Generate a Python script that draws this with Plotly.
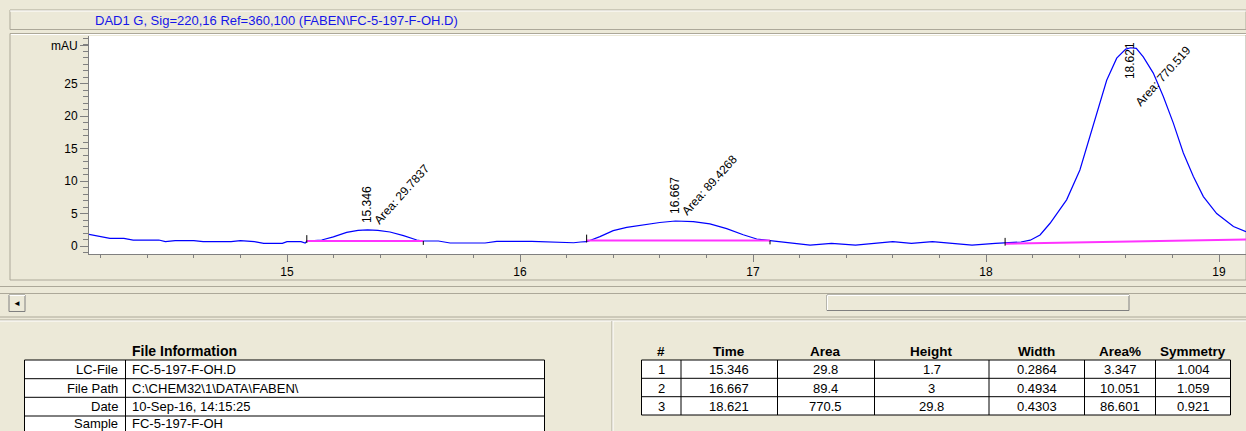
import plotly.graph_objects as go

# ---------------- chromatogram signal (retention time in min, signal in mAU) ----------------
ret_time = [
    14.150, 14.197, 14.240, 14.300, 14.340, 14.450, 14.478, 14.520, 14.600, 14.640,
    14.760, 14.800, 14.860, 14.900, 14.980, 15.000, 15.060, 15.078, 15.085, 15.149,
    15.199, 15.256, 15.305, 15.346, 15.390, 15.442, 15.500, 15.557, 15.585, 15.650,
    15.700, 15.850, 15.900, 16.050, 16.120, 16.180, 16.230, 16.260, 16.286, 16.343,
    16.400, 16.458, 16.529, 16.600, 16.667, 16.744, 16.815, 16.887, 16.958, 17.016,
    17.073, 17.120, 17.173, 17.245, 17.337, 17.440, 17.520, 17.600, 17.680, 17.770,
    17.855, 17.940, 18.040, 18.082, 18.150, 18.190, 18.232, 18.275, 18.346, 18.403,
    18.446, 18.482, 18.518, 18.561, 18.600, 18.621, 18.645, 18.675, 18.718, 18.761,
    18.804, 18.847, 18.890, 18.933, 18.990, 19.062, 19.116,
]
signal = [
    1.80, 1.44, 1.18, 1.18, 0.92, 0.92, 0.67, 0.82, 0.82, 0.66,
    0.66, 0.82, 0.66, 0.41, 0.41, 0.66, 0.66, 0.45, 0.77, 0.92,
    1.40, 2.10, 2.40, 2.47, 2.40, 2.15, 1.60, 0.92, 0.77, 0.77,
    0.46, 0.46, 0.70, 0.70, 0.66, 0.62, 0.50, 0.62, 0.66, 1.44,
    2.36, 2.87, 3.30, 3.62, 3.85, 3.75, 3.40, 2.67, 1.74, 1.08,
    0.82, 0.66, 0.41, 0.15, 0.41, 0.15, 0.41, 0.66, 0.41, 0.66,
    0.41, 0.15, 0.41, 0.45, 0.62, 0.90, 1.70, 3.50, 7.10, 11.70,
    16.80, 21.40, 25.50, 28.90, 30.30, 30.50, 30.40, 29.10, 26.60, 23.00,
    18.90, 14.30, 10.70, 7.60, 5.00, 3.00, 2.20,
]

# ---------------- integration baselines ----------------
base_start_t = [15.085, 16.286, 18.082]
base_start_v = [0.77, 0.85, 0.35]
base_end_t = [15.585, 17.073, 19.116]
base_end_v = [0.77, 0.85, 1.00]
base_end_visible = [True, True, False]

# ---------------- peak table ----------------
peak_no = ["1", "2", "3"]
peak_time = [15.346, 16.667, 18.621]
peak_area = [29.8, 89.4, 770.5]
peak_area_label = ["29.7837", "89.4268", "770.519"]
peak_height = [1.7, 3, 29.8]
peak_width = [0.2864, 0.4934, 0.4303]
peak_area_pct = [3.347, 10.051, 86.601]
peak_symmetry = [1.004, 1.059, 0.921]
peak_apex = [2.47, 3.85, 30.50]

table_headers = ["#", "Time", "Area", "Height", "Width", "Area%", "Symmetry"]

# ---------------- file information ----------------
info_labels = ["LC-File", "File Path", "Date", "Sample"]
info_values = ["FC-5-197-F-OH.D", "C:\\CHEM32\\1\\DATA\\FABEN\\", "10-Sep-16, 14:15:25", "FC-5-197-F-OH"]

signal_title = "DAD1 G, Sig=220,16 Ref=360,100 (FABEN\\FC-5-197-F-OH.D)"

# ---------------- page geometry (pixels) ----------------
W, H = 1246, 431
BG = "#ECE9D8"
GREY = "#ACA899"
DARK = "#808080"
FONT = "Liberation Sans, Arial, sans-serif"
NARROW = "Liberation Sans Narrow, Arial Narrow, Liberation Sans, Arial, sans-serif"

PLOT_L, PLOT_R, PLOT_T, PLOT_B = 89, 1246, 36, 254
X_RANGE = [14.1502, 19.1159]
Y_RANGE = [-1.23, 32.31]


def px(x):
    return x / W


def py(y):
    return 1 - y / H


shapes = []
annotations = []


def hline(x0, x1, y, color=GREY, width=1):
    shapes.append(dict(type="line", xref="paper", yref="paper", x0=px(x0), x1=px(x1),
                       y0=py(y), y1=py(y), line=dict(color=color, width=width)))


def vline(x, y0, y1, color=GREY, width=1):
    shapes.append(dict(type="line", xref="paper", yref="paper", x0=px(x), x1=px(x),
                       y0=py(y0), y1=py(y1), line=dict(color=color, width=width)))


def rect(x0, y0, x1, y1, color=GREY, fill=None, width=1):
    shapes.append(dict(type="rect", xref="paper", yref="paper", x0=px(x0), x1=px(x1),
                       y0=py(y1), y1=py(y0), line=dict(color=color, width=width),
                       fillcolor=fill if fill else "rgba(0,0,0,0)", layer="below"))


def text(x, y, s, size=12, color="black", family=FONT, xanchor="center", bold=False):
    if bold:
        s = "<b>" + s + "</b>"
    annotations.append(dict(xref="paper", yref="paper", x=px(x), y=py(y), text=s,
                            showarrow=False, xanchor=xanchor, yanchor="middle",
                            font=dict(size=size, color=color, family=family)))


fig = go.Figure()

# signal trace
fig.add_trace(go.Scatter(x=ret_time, y=signal, mode="lines",
                         line=dict(color="#0000FF", width=1.2),
                         hoverinfo="skip", showlegend=False))

# integration baselines
for t0, v0, t1, v1 in zip(base_start_t, base_start_v, base_end_t, base_end_v):
    fig.add_trace(go.Scatter(x=[t0, t1], y=[v0, v1], mode="lines",
                             line=dict(color="#FF33FF", width=2),
                             hoverinfo="skip", showlegend=False))

# peak start / end markers
tx, ty = [], []
for t0, v0, t1, v1, vis in zip(base_start_t, base_start_v, base_end_t, base_end_v, base_end_visible):
    tx += [t0, t0, None]
    ty += [v0 - 0.3, v0 + 0.9, None]
    if vis:
        tx += [t1, t1, None]
        ty += [v1, v1 - 0.6, None]
fig.add_trace(go.Scatter(x=tx, y=ty, mode="lines", line=dict(color="black", width=1),
                         hoverinfo="skip", showlegend=False))

# peak labels: retention time (vertical) and area (slanted)
y_top_label = Y_RANGE[1] - 0.6
for t, apex, alab in zip(peak_time, peak_apex, peak_area_label):
    if apex + 6.5 > y_top_label:
        annotations.append(dict(xref="x", yref="y", x=t, y=y_top_label, text=f"{t:.3f}",
                                textangle=-90, showarrow=False, xanchor="center", yanchor="top",
                                font=dict(size=12, family=FONT, color="black")))
        annotations.append(dict(xref="x", yref="y", x=t, y=y_top_label, text="Area: " + alab,
                                textangle=-48, showarrow=False, xanchor="left", yanchor="top",
                                xshift=-1, font=dict(size=12, family=FONT, color="black")))
    else:
        annotations.append(dict(xref="x", yref="y", x=t, y=apex, text=f"{t:.3f}",
                                textangle=-90, showarrow=False, xanchor="center", yanchor="bottom",
                                yshift=5, font=dict(size=12, family=FONT, color="black")))
        annotations.append(dict(xref="x", yref="y", x=t, y=apex, text="Area: " + alab,
                                textangle=-48, showarrow=False, xanchor="left", yanchor="bottom",
                                xshift=1, yshift=0, font=dict(size=12, family=FONT, color="black")))

# ---------------- window chrome ----------------
# signal title bar
rect(10, 10, 1246, 29.5, color=GREY)
hline(10, 1246, 11, color="white")
text(93, 20, signal_title, size=13, color="#1515E8", xanchor="left")

# chart panel
rect(10, 33.5, 1246, 280, color=GREY)
hline(11, 1246, 34.5, color="white")

# horizontal scroll bar
hline(0, 1246, 286.5, color=GREY)
hline(0, 1246, 293.5, color=GREY)
rect(9, 295, 25, 311.5, color=DARK)
hline(9.5, 25, 295.5, color="white")
text(17, 303, "◄", size=8, color="black")
rect(827, 295, 1129, 310.5, color=DARK)
hline(827.5, 1129, 295.5, color="white")
vline(827.5, 295.5, 310, color="white")

# splitter
hline(0, 1246, 317, color=GREY)
hline(0, 1246, 320, color=GREY)
hline(0, 1246, 321, color="white")
vline(612, 321, 431, color=GREY)
vline(613, 321, 431, color="white")

# ---------------- file information table ----------------
text(184, 351, "File Information", size=14, family=NARROW, bold=True)
info_rows = [360, 378.7, 397.3, 416]
rect(24.5, 360, 544.5, 440, color="black", fill="white")
for yr in info_rows[1:]:
    hline(24.5, 544.5, yr, color="black")
vline(125.5, 360, 440, color="black")
for i, (lab, val) in enumerate(zip(info_labels, info_values)):
    yc = min(info_rows[i] + 9.6, 423.5)
    text(120, yc, lab, size=13, family=NARROW, xanchor="right")
    text(130, yc, val, size=13, family=NARROW, xanchor="left")

# ---------------- peak table ----------------
col_edges = [641.5, 681, 777.5, 874.5, 989, 1084.5, 1155.5, 1230.5]
row_edges = [360, 378.3, 396.7, 415]
rect(col_edges[0], row_edges[0], col_edges[-1], row_edges[-1], color="black", fill="white")
for yr in row_edges[1:-1]:
    hline(col_edges[0], col_edges[-1], yr, color="black")
for xc in col_edges[1:-1]:
    vline(xc, row_edges[0], row_edges[-1], color="black")
centres = [(a + b) / 2 for a, b in zip(col_edges[:-1], col_edges[1:])]
for c, h in zip(centres, table_headers):
    text(c, 351.5, h, size=13.5, family=NARROW, bold=True)
rows = list(zip(peak_no,
                [f"{v:.3f}" for v in peak_time],
                [f"{v:g}" for v in peak_area],
                [f"{v:g}" for v in peak_height],
                [f"{v:.4f}" for v in peak_width],
                [f"{v:.3f}" for v in peak_area_pct],
                [f"{v:.3f}" for v in peak_symmetry]))
for r, row in enumerate(rows):
    yc = (row_edges[r] + row_edges[r + 1]) / 2 + 0.5
    for c, val in zip(centres, row):
        text(c, yc, val, size=13, family=NARROW)

fig.update_layout(
    width=W, height=H,
    margin=dict(l=0, r=0, t=0, b=0),
    paper_bgcolor=BG,
    plot_bgcolor="white",
    showlegend=False,
    shapes=shapes,
    annotations=annotations,
    xaxis=dict(
        domain=[px(PLOT_L), 1.0], range=X_RANGE,
        showline=True, linecolor=DARK, linewidth=1,
        ticks="outside", ticklen=7, tickcolor=DARK, tickwidth=1,
        tick0=0, dtick=1, showgrid=False, zeroline=False,
        minor=dict(dtick=0.2, tick0=0, ticks="outside", ticklen=3, tickcolor=DARK, showgrid=False),
        tickfont=dict(size=12, family=FONT, color="black"),
        fixedrange=True,
    ),
    yaxis=dict(
        domain=[py(PLOT_B), py(PLOT_T)], range=Y_RANGE,
        showline=True, linecolor=DARK, linewidth=1,
        ticks="outside", ticklen=8, tickcolor=DARK, tickwidth=1,
        tickmode="array",
        tickvals=[0, 5, 10, 15, 20, 25, 30.8],
        ticktext=["0", "5", "10", "15", "20", "25", "mAU"],
        showgrid=False, zeroline=False,
        minor=dict(dtick=1, tick0=0, ticks="outside", ticklen=5, tickcolor=DARK, showgrid=False),
        tickfont=dict(size=12, family=FONT, color="black"),
        fixedrange=True,
    ),
)

fig.write_html("out.html")
